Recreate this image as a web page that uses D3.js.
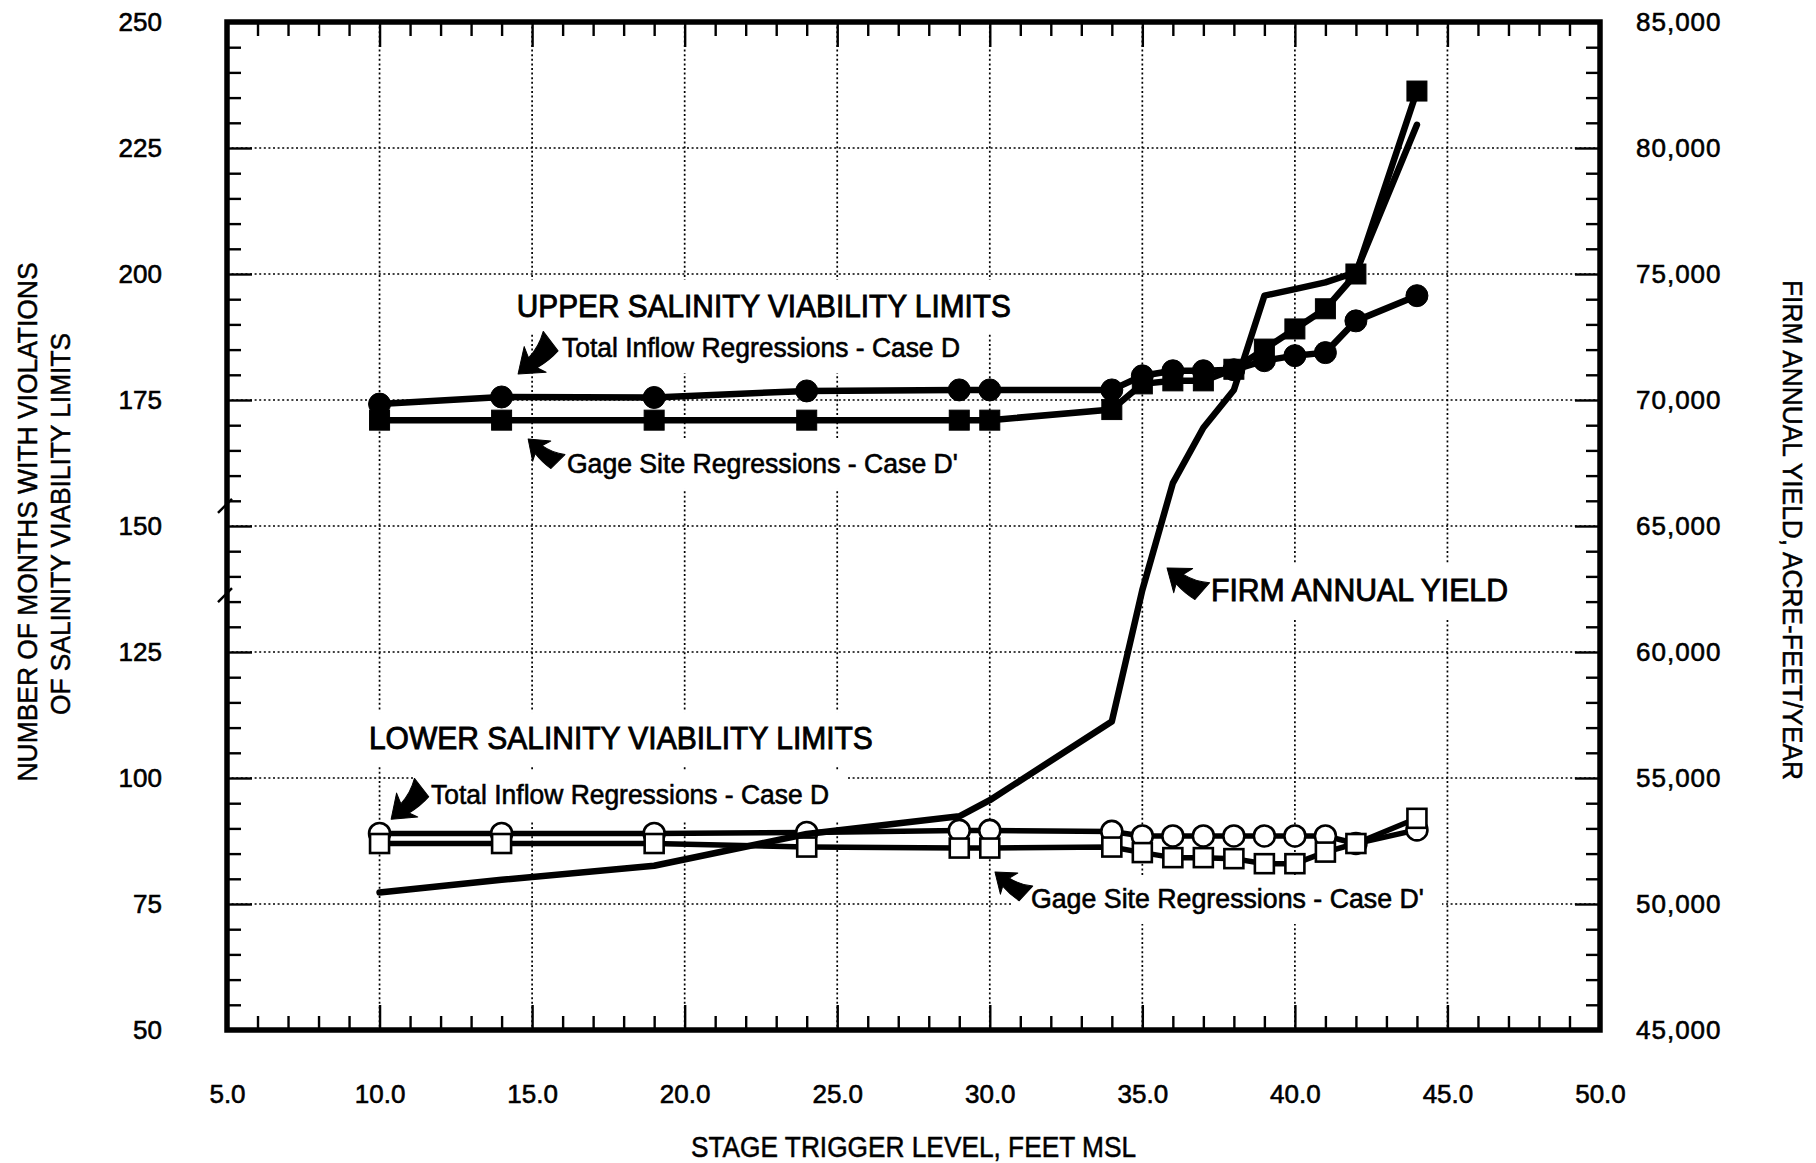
<!DOCTYPE html>
<html><head><meta charset="utf-8">
<script src="https://cdn.jsdelivr.net/npm/d3@7"></script>
<style>
html,body{margin:0;padding:0;background:#fff;}
svg{display:block;}
text{font-family:"Liberation Sans",Arial,Helvetica,sans-serif;fill:#000;}
</style></head><body>
<svg id="chart" width="1816" height="1163"></svg>
<script>
// ---------------- DATA ----------------
const stageLevels = [10,14,19,24,29,30,34,35,36,37,38,39,40,41,42,44];
const upperTotalInflow = [174.2,175.6,175.5,176.8,177,177,177,179.8,180.8,180.8,181,182.8,183.8,184.4,190.7,195.7];
const upperGageSite    = [171,171,171,171,171,171,173.1,178.2,178.8,178.8,181.1,185.1,189.1,193.1,200,236.3];
const lowerTotalInflow = [89,89,89,89.2,89.6,89.6,89.4,88.5,88.5,88.5,88.5,88.5,88.5,88.5,87,89.7];
const lowerGageSite    = [87,87,87,86.3,86.1,86.1,86.3,85.2,84.2,84.2,84,83,83,85.3,87,92];
const firmAnnualYield  = [50460,50960,51520,52780,53480,54120,57240,62460,66700,68900,70400,74140,74400,74670,75070,80920];

const xTicks = [5,10,15,20,25,30,35,40,45,50];
const xTickLabels = ["5.0","10.0","15.0","20.0","25.0","30.0","35.0","40.0","45.0","50.0"];
const leftTicks = [50,75,100,125,150,175,200,225,250];
const leftTickLabels = ["50","75","100","125","150","175","200","225","250"];
const rightTicks = [45000,50000,55000,60000,65000,70000,75000,80000,85000];
const rightTickLabels = ["45,000","50,000","55,000","60,000","65,000","70,000","75,000","80,000","85,000"];

const xTitle = "STAGE TRIGGER LEVEL, FEET MSL";
const leftTitle = ["NUMBER OF MONTHS WITH VIOLATIONS","OF SALINITY VIABILITY LIMITS"];
const rightTitle = "FIRM ANNUAL YIELD, ACRE-FEET/YEAR";

// annotation texts, anchored in data units (stage, months)
const noteTexts = ["UPPER SALINITY VIABILITY LIMITS","Total Inflow Regressions - Case D","Gage Site Regressions - Case D'","FIRM ANNUAL YIELD","LOWER SALINITY VIABILITY LIMITS","Total Inflow Regressions - Case D","Gage Site Regressions - Case D'"];
const noteStage  = [14.50,15.98,16.14,37.25,9.65,11.69,31.35];
const noteMonths = [191.47,183.53,160.52,135.12,105.75,94.84,74.21];
// arrows: tip and tail in data units
const arrowTipStage   = [14.54,14.87,35.81,10.38,30.17];
const arrowTipMonths  = [180.16,167.26,141.67,91.83,81.35];
const arrowTailStage  = [15.65,15.75,36.86,11.42,31.09];
const arrowTailMonths = [185.91,162.5,136.71,97.38,76.79];
// axis-break marks on the left axis (months)
const axisBreaks = [154.2,136.5];

// ---------------- LAYOUT ----------------
const svg = d3.select("#chart");
const FONT = '"Liberation Sans",Arial,Helvetica,sans-serif';
const x  = d3.scaleLinear().domain([5,50]).range([227,1600]);
const yL = d3.scaleLinear().domain([50,250]).range([1030,22]);
const yR = d3.scaleLinear().domain([45000,85000]).range([1030,22]);

// gridlines
const grid = svg.append("g").attr("stroke","#000").attr("stroke-width",1.7).attr("stroke-dasharray","2,2.6");
grid.selectAll("line.v").data(xTicks.slice(1,-1)).join("line").attr("class","v")
  .attr("x1",d=>x(d)).attr("x2",d=>x(d)).attr("y1",yL(250)).attr("y2",yL(50));
grid.selectAll("line.h").data(leftTicks.slice(1,-1)).join("line").attr("class","h")
  .attr("x1",x(5)).attr("x2",x(50)).attr("y1",d=>yL(d)).attr("y2",d=>yL(d));

const knockout = svg.append("g");

function range(a,b,s){const r=[];for(let v=a;v<=b+1e-9;v+=s)r.push(+v.toFixed(6));return r;}
const xMinor = range(5,50,1).filter(v=>v%5!==0);
const yMinor = range(50,250,5).filter(v=>v%25!==0);
const rMinor = range(45000,85000,1000).filter(v=>v%5000!==0);

function style(g,fs){
  g.select(".domain").remove();
  g.attr("font-family",FONT).attr("font-size",fs);
  g.selectAll(".tick line").attr("stroke","#000").attr("stroke-width",2.4);
  g.selectAll(".tick text").attr("fill","#000").attr("stroke","#000").attr("stroke-width",0.6);
}
// bottom
svg.append("g").attr("transform",`translate(0,${yL(50)})`)
  .call(d3.axisBottom(x).tickValues(xTicks).tickSizeInner(-25).tickSizeOuter(0).tickPadding(55).tickFormat((d,i)=>xTickLabels[i]))
  .call(g=>style(g,26));
svg.append("g").attr("transform",`translate(0,${yL(50)})`)
  .call(d3.axisBottom(x).tickValues(xMinor).tickSizeInner(-14).tickSizeOuter(0).tickFormat(""))
  .call(g=>style(g,26));
// top
svg.append("g").attr("transform",`translate(0,${yL(250)})`)
  .call(d3.axisTop(x).tickValues(xTicks).tickSizeInner(-25).tickSizeOuter(0).tickFormat(""))
  .call(g=>style(g,26));
svg.append("g").attr("transform",`translate(0,${yL(250)})`)
  .call(d3.axisTop(x).tickValues(xMinor).tickSizeInner(-14).tickSizeOuter(0).tickFormat(""))
  .call(g=>style(g,26));
// left
svg.append("g").attr("transform",`translate(${x(5)},0)`)
  .call(d3.axisLeft(yL).tickValues(leftTicks).tickSizeInner(-25).tickSizeOuter(0).tickPadding(65).tickFormat((d,i)=>leftTickLabels[i]))
  .call(g=>style(g,26));
svg.append("g").attr("transform",`translate(${x(5)},0)`)
  .call(d3.axisLeft(yL).tickValues(yMinor).tickSizeInner(-14).tickSizeOuter(0).tickFormat(""))
  .call(g=>style(g,26));
// right
svg.append("g").attr("transform",`translate(${x(50)},0)`)
  .call(d3.axisRight(yR).tickValues(rightTicks).tickSizeInner(-25).tickSizeOuter(0).tickPadding(36).tickFormat((d,i)=>rightTickLabels[i]))
  .call(g=>style(g,26))
  .call(g=>g.selectAll(".tick text").attr("letter-spacing",1));
svg.append("g").attr("transform",`translate(${x(50)},0)`)
  .call(d3.axisRight(yR).tickValues(rMinor).tickSizeInner(-14).tickSizeOuter(0).tickFormat(""))
  .call(g=>style(g,26));

// frame
svg.append("rect").attr("x",x(5)).attr("y",yL(250)).attr("width",x(50)-x(5)).attr("height",yL(50)-yL(250))
  .attr("fill","none").attr("stroke","#000").attr("stroke-width",5.5);
// axis break marks
axisBreaks.forEach(v=>{
  const yy=yL(v);
  svg.append("line").attr("x1",x(5)-9).attr("y1",yy+8).attr("x2",x(5)+5).attr("y2",yy-6)
    .attr("stroke","#000").attr("stroke-width",2.4);
});

// axis titles
svg.append("text").attr("x",(x(5)+x(50))/2).attr("y",1157).attr("text-anchor","middle")
  .attr("font-size",29).attr("stroke","#000").attr("stroke-width",0.5)
  .attr("textLength",445).attr("lengthAdjust","spacingAndGlyphs").text(xTitle);
const lt = [[37,522,519],[70,524,382]];
leftTitle.forEach((t,i)=>{
  svg.append("text").attr("transform",`translate(${lt[i][0]},${lt[i][1]}) rotate(-90)`)
    .attr("text-anchor","middle").attr("font-size",28).attr("stroke","#000").attr("stroke-width",0.5)
    .attr("textLength",lt[i][2]).attr("lengthAdjust","spacingAndGlyphs").text(t);
});
svg.append("text").attr("transform",`translate(1783,530) rotate(90)`)
  .attr("text-anchor","middle").attr("font-size",28).attr("stroke","#000").attr("stroke-width",0.5)
  .attr("textLength",500).attr("lengthAdjust","spacingAndGlyphs").text(rightTitle);

// ---------------- SERIES ----------------
const lineL = d3.line().x((d,i)=>x(stageLevels[i])).y(d=>yL(d));
const lineR = d3.line().x((d,i)=>x(stageLevels[i])).y(d=>yR(d));

function drawSeries(vals, shape, filled, lw, size){
  svg.append("path").datum(vals).attr("d",lineL).attr("fill","none").attr("stroke","#000")
    .attr("stroke-width",lw).attr("stroke-linejoin","round").attr("stroke-linecap","round");
  const g = svg.append("g");
  if(shape==="circle"){
    g.selectAll("circle").data(vals).join("circle")
      .attr("cx",(d,i)=>x(stageLevels[i])).attr("cy",d=>yL(d)).attr("r",size/2)
      .attr("fill",filled?"#000":"#fff").attr("stroke","#000").attr("stroke-width",filled?1:2.6);
  } else {
    g.selectAll("rect").data(vals).join("rect")
      .attr("x",(d,i)=>x(stageLevels[i])-size/2).attr("y",d=>yL(d)-size/2)
      .attr("width",size).attr("height",size)
      .attr("fill",filled?"#000":"#fff").attr("stroke","#000").attr("stroke-width",filled?1:2.6);
  }
}
drawSeries(lowerTotalInflow,"circle",false,5.5,21);
drawSeries(lowerGageSite,"square",false,5.5,19);
drawSeries(upperTotalInflow,"circle",true,6.5,22);
drawSeries(upperGageSite,"square",true,6.5,20);

svg.append("path").datum(firmAnnualYield).attr("d",lineR).attr("fill","none").attr("stroke","#000")
  .attr("stroke-width",6.5).attr("stroke-linejoin","round").attr("stroke-linecap","round");

// ---------------- ANNOTATIONS ----------------
const noteSize = [31,27,27,31,31,27,27];
const noteLen  = [494,398,391,297,504,398,393];
const noteStroke = [0.9,0.6,0.6,0.9,0.9,0.6,0.6];
noteTexts.forEach((t,i)=>{
  const tx = svg.append("text").attr("x",x(noteStage[i])).attr("y",yL(noteMonths[i]))
    .attr("font-size",noteSize[i]).attr("stroke","#000").attr("stroke-width",noteStroke[i])
    .attr("textLength",noteLen[i]).attr("lengthAdjust","spacingAndGlyphs").text(t);
  const b = tx.node().getBBox();
  knockout.append("rect").attr("x",b.x-18).attr("y",b.y-9).attr("width",b.width+36).attr("height",b.height+19).attr("fill","#fff");
});
function arrowPath(L){
  const hl=L*0.48, hw=L*0.36;
  return `M0,0 L${hl},${-hw} L${hl*0.82},${-hw*0.32} Q${L*0.72},${-hw*0.42} ${L},${-hw*0.95} L${L*0.97},${hw*0.5} Q${L*0.7},${hw*0.6} ${hl*0.82},${hw*0.45} L${hl},${hw} Z`;
}
arrowTipStage.forEach((s,i)=>{
  const tx=x(s), ty=yL(arrowTipMonths[i]), sx=x(arrowTailStage[i]), sy=yL(arrowTailMonths[i]);
  const L=Math.hypot(sx-tx,sy-ty)*1.05, ang=Math.atan2(sy-ty,sx-tx)*180/Math.PI;
  svg.append("path").attr("d",arrowPath(L)).attr("transform",`translate(${tx},${ty}) rotate(${ang})`)
    .attr("fill","#000").attr("stroke","#000").attr("stroke-width",1).attr("stroke-linejoin","round");
});
</script>
</body></html>
